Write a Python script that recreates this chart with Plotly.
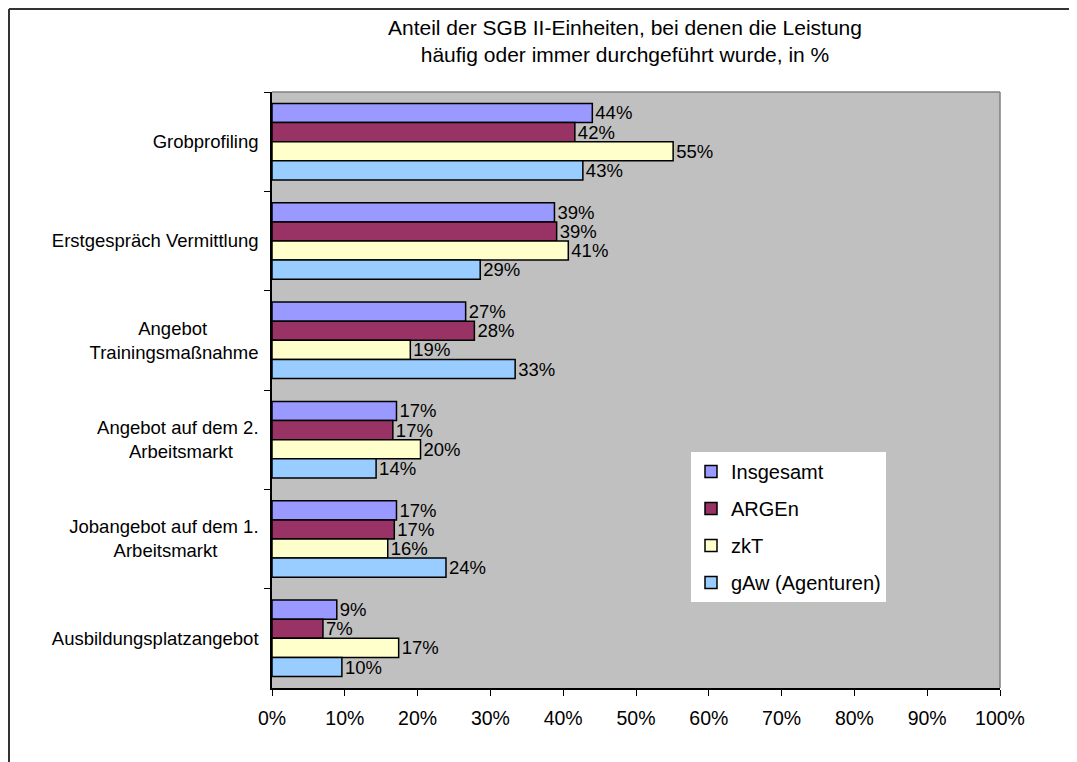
import plotly.graph_objects as go

NB = "&nbsp;"
categories = [
    "Grobprofiling",
    "Erstgespräch Vermittlung",
    "Angebot" + NB * 10 + "<br>Trainingsmaßnahme",
    "Angebot auf dem 2.<br>Arbeitsmarkt" + NB * 5,
    "Jobangebot auf dem 1.<br>Arbeitsmarkt" + NB * 8,
    "Ausbildungsplatzangebot",
]
series_names = ["Insgesamt", "ARGEn", "zkT", "gAw (Agenturen)"]
insgesamt = [44.0, 38.8, 26.6, 17.1, 17.1, 8.9]
argen = [41.6, 39.1, 27.8, 16.6, 16.8, 7.0]
zkt = [55.1, 40.7, 19.0, 20.4, 15.9, 17.4]
gaw = [42.7, 28.6, 33.4, 14.3, 23.9, 9.6]
x_ticks = [0, 10, 20, 30, 40, 50, 60, 70, 80, 90, 100]
x_tick_labels = ["0%", "10%", "20%", "30%", "40%", "50%", "60%", "70%", "80%", "90%", "100%"]

colors = ["#9999FF", "#993366", "#FFFFCC", "#99CCFF"]
series_values = [insgesamt, argen, zkt, gaw]

FONT = "Liberation Sans, Arial, sans-serif"

W, H = 1069, 754
ML, MR, MT, MB = 264, 77, 84, 74
PW = W - ML - MR
PH = H - MT - MB

fig = go.Figure()
for i, (name, vals) in enumerate(zip(series_names, series_values)):
    fig.add_trace(go.Bar(
        y=categories, x=vals, name=name, orientation="h",
        marker=dict(color=colors[i], line=dict(color="black", width=1.5)),
        texttemplate="%{x:.0f}%", textposition="outside",
        constraintext="none", cliponaxis=False,
        textfont=dict(family=FONT, size=18.5, color="black"),
        legendgroup=name,
    ))

fig.update_layout(
    width=W, height=H,
    barmode="group", bargap=0.23, bargroupgap=0,
    paper_bgcolor="white", plot_bgcolor="#C0C0C0",
    margin=dict(l=ML, r=MR, t=MT, b=MB),
    font=dict(family=FONT, size=18.5, color="black"),
    showlegend=True,
    legend=dict(
        x=(683 - ML) / PW, y=(MT + PH - 444) / PH, xanchor="left", yanchor="top",
        bgcolor="white", borderwidth=0,
        font=dict(family=FONT, size=20, color="black"),
        traceorder="grouped", tracegroupgap=8,
    ),
    xaxis=dict(
        range=[0, 100], tickvals=x_ticks, ticktext=x_tick_labels,
        showgrid=False, zeroline=False,
        ticks="outside", ticklen=6, tickcolor="black",
        showline=True, linecolor="black", linewidth=1.5,
        tickfont=dict(family=FONT, size=19.5),
        ticklabelstandoff=6,
    ),
    yaxis=dict(
        autorange="reversed", showgrid=False,
        ticks="outside", ticklen=6, tickcolor="black", tickson="boundaries",
        showline=True, linecolor="black", linewidth=1.5,
        tickfont=dict(family=FONT, size=18.5),
        ticklabelstandoff=8,
    ),
    annotations=[
        dict(
            text="Anteil der SGB II-Einheiten, bei denen die Leistung<br>häufig oder immer durchgeführt wurde, in %",
            xref="paper", yref="paper",
            x=(617 - ML) / PW, y=(MT + PH - 33.5) / PH,
            xanchor="center", yanchor="middle", showarrow=False,
            font=dict(family=FONT, size=21, color="black"),
        )
    ],
    shapes=[
        dict(type="line", xref="paper", yref="paper", x0=0, x1=1, y0=1, y1=1,
             line=dict(color="#808080", width=1.5)),
        dict(type="line", xref="paper", yref="paper", x0=1, x1=1, y0=0, y1=1,
             line=dict(color="#808080", width=1.5)),
        dict(type="line", xref="paper", yref="paper",
             x0=(1 - ML) / PW, x1=(W + 20 - ML) / PW,
             y0=(MT + PH - 1) / PH, y1=(MT + PH - 1) / PH,
             line=dict(color="#333333", width=2)),
        dict(type="line", xref="paper", yref="paper",
             x0=(1 - ML) / PW, x1=(1 - ML) / PW,
             y0=(MT + PH - 1) / PH, y1=-(MB + 20) / PH,
             line=dict(color="#333333", width=2)),
    ],
)

fig.write_html("out.html")
